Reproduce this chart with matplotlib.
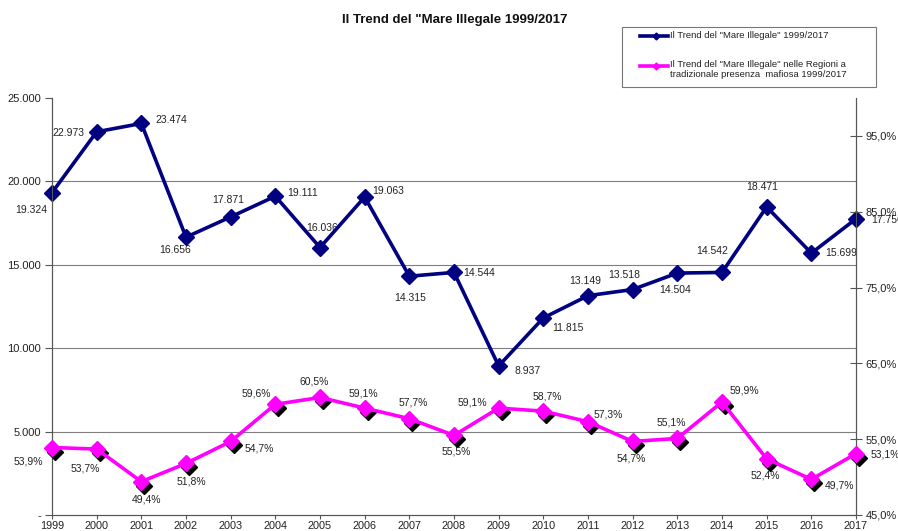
import matplotlib
matplotlib.use("Agg")
import matplotlib.pyplot as plt
import matplotlib.transforms as mtransforms
from matplotlib.lines import Line2D
from matplotlib.patches import Rectangle
from matplotlib.ticker import FuncFormatter

plt.rcParams['font.family'] = ['Liberation Sans', 'DejaVu Sans']

# data
years = list(range(1999, 2018))
mare_illegale = [19324, 22973, 23474, 16656, 17871, 19111, 16036, 19063, 14315, 14544,
                 8937, 11815, 13149, 13518, 14504, 14542, 18471, 15699, 17756]
quota_regioni = [53.9, 53.7, 49.4, 51.8, 54.7, 59.6, 60.5, 59.1, 57.7, 55.5,
                 59.1, 58.7, 57.3, 54.7, 55.1, 59.9, 52.4, 49.7, 53.1]

# label offsets in pixels (dx, dy), y up
blue_off = [(-21, -17), (-28, -1), (30, 3), (-11, -13), (-2, 17), (27, 3), (2, 20), (23, 6),
            (1, -22), (25, -1), (29, -5), (25, -10), (-3, 15), (-8, 15), (-2, -17), (-10, 21),
            (-4, 20), (30, 0), (31, -1)]
pink_off = [(-24, -14), (-11, -19), (5, -18), (5, -18), (29, -7), (-19, 11), (-6, 16), (-1, 15),
            (4, 16), (2, -16), (-26, 6), (4, 15), (20, 7), (-1, -17), (-6, 16), (22, 12),
            (-1, -17), (28, -6), (29, -1)]

BLUE = '#000080'
PINK = '#ff00ff'
TXT = '#222222'

fig = plt.figure(figsize=(8.98, 5.31), dpi=100)
ax = fig.add_axes([52 / 898, 16 / 531, 804 / 898, 417 / 531])
ax2 = ax.twinx()

ax.set_xlim(1999, 2017)
ax.set_ylim(0, 25000)
ax2.set_ylim(45, 100)

ax.set_xticks(years)
ax.set_yticks(range(0, 25001, 5000))
ax2.set_yticks(range(45, 100, 10))

ax.yaxis.set_major_formatter(FuncFormatter(lambda v, p: '-' if v == 0 else f'{int(v):,}'.replace(',', '.')))
ax2.yaxis.set_major_formatter(FuncFormatter(lambda v, p: f'{v:.1f}%'.replace('.', ',')))

for a in (ax, ax2):
    a.spines['top'].set_visible(False)
    for s in ('left', 'right', 'bottom'):
        a.spines[s].set_color('#555555')
        a.spines[s].set_linewidth(0.8)
    a.tick_params(labelsize=8, colors='#555555', labelcolor=TXT, width=0.8)
ax.tick_params(axis='y', length=5, pad=3)
ax.tick_params(axis='x', length=3, pad=1, labelsize=7.8)
ax2.tick_params(axis='y', direction='inout', length=8, pad=3)

for v in range(5000, 25000, 5000):
    ax.axhline(v, color='#7f7f7f', lw=0.8, zorder=1)

# blue series
ax.plot(years, mare_illegale, color=BLUE, lw=2.6, marker='D', ms=8.5, zorder=5, clip_on=False)
for x, y, (dx, dy) in zip(years, mare_illegale, blue_off):
    ax.annotate(f'{y:,}'.replace(',', '.'), (x, y), xytext=(dx, dy), textcoords='offset pixels',
                ha='center', va='center', fontsize=7.5, color=TXT, annotation_clip=False)

# pink series with black shadow
shadow = ax2.transData + mtransforms.ScaledTranslation(3 / 100, -4 / 100, fig.dpi_scale_trans)
ax2.plot(years, quota_regioni, ls='none', marker='D', ms=8, color='black', transform=shadow,
         zorder=3, clip_on=False)
ax2.plot(years, quota_regioni, color=PINK, lw=2.6, marker='D', ms=8.5, zorder=4, clip_on=False)
for x, y, (dx, dy) in zip(years, quota_regioni, pink_off):
    ax2.annotate(f'{y:.1f}%'.replace('.', ','), (x, y), xytext=(dx, dy), textcoords='offset pixels',
                 ha='center', va='center', fontsize=7.5, color=TXT, annotation_clip=False)

# title
fig.text(455 / 898, 1 - 20 / 531, 'Il Trend del "Mare Illegale 1999/2017', ha='center', va='center',
         fontsize=9.5, fontweight='bold', color='#111111')

# legend box
fig.patches.append(Rectangle((622 / 898, 1 - 87 / 531), 254 / 898, 60 / 531, transform=fig.transFigure,
                             facecolor='white', edgecolor='#777777', lw=0.8))
for ycoord, col in ((36, BLUE), (66, PINK)):
    yf = 1 - ycoord / 531
    fig.lines.append(Line2D([640 / 898, 668 / 898], [yf, yf], transform=fig.transFigure, color=col, lw=2.6))
    fig.lines.append(Line2D([656 / 898], [yf], transform=fig.transFigure, color=col, marker='D', ms=3.5, ls='none'))
fig.text(670 / 898, 1 - 36 / 531, 'Il Trend del "Mare Illegale" 1999/2017', ha='left', va='center',
         fontsize=6.8, color=TXT)
fig.text(670 / 898, 1 - 60 / 531, 'Il Trend del "Mare Illegale" nelle Regioni a\ntradizionale presenza  mafiosa 1999/2017',
         ha='left', va='top', fontsize=6.8, color=TXT, linespacing=1.15)

fig.savefig('out.png', dpi=100)
